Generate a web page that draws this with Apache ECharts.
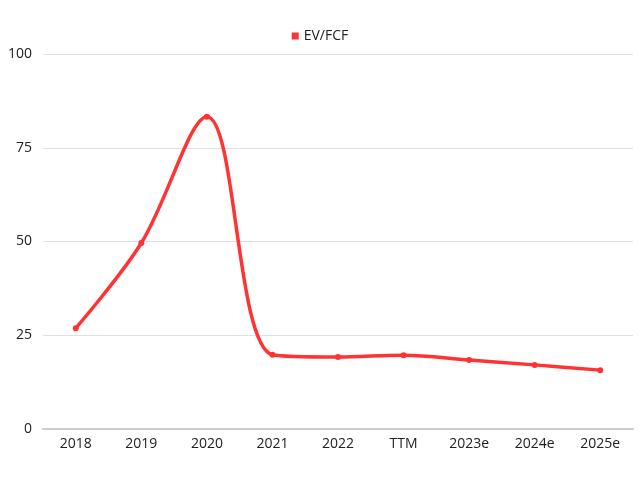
<!DOCTYPE html>
<html lang="en">
<head>
	<meta charset="UTF-8">
	<title>EV/FCF</title>
	<script src="https://cdn.jsdelivr.net/npm/echarts@6/dist/echarts.min.js"></script>
</head>
<body style="margin:0;background-color:#fff;">
<div id="main" style="width:640px;height:480px;"></div>
<script>
    // 类别 (X轴)
    var years = ['2018', '2019', '2020', '2021', '2022', 'TTM', '2023e', '2024e', '2025e'];
    // EV/FCF 数值
    var evFcf = [26.9, 49.6, 83.3, 19.8, 19.2, 19.7, 18.4, 17.1, 15.7];
    // 纵轴刻度
    var yTicks = [0, 25, 50, 75, 100];

    var myChart = echarts.init(document.getElementById('main'));
    var option = {
        textStyle: {fontFamily: 'Open Sans'},
        legend: {
            top: 24,
            left: 'center',
            itemWidth: 7,
            itemHeight: 7,
            itemGap: 5,
            icon: 'rect',
            textStyle: {fontSize: 14, color: '#222'},
            data: ['EV/FCF']
        },
        grid: {left: 43, right: 7, top: 54, bottom: 51},
        xAxis: {
            type: 'category',
            data: years,
            axisLine: {lineStyle: {color: '#cccccc', width: 2}},
            axisTick: {show: false},
            axisLabel: {fontSize: 14, color: '#222', margin: 8}
        },
        yAxis: {
            type: 'value',
            min: yTicks[0],
            max: yTicks[yTicks.length - 1],
            interval: 25,
            axisLine: {show: false},
            axisTick: {show: false},
            axisLabel: {fontSize: 14, color: '#222', margin: 11},
            splitLine: {lineStyle: {color: '#e0e0e0'}}
        },
        series: [{
            name: 'EV/FCF',
            type: 'line',
            smooth: 0.35,
            data: evFcf,
            color: '#ff3333',
            symbol: 'circle',
            symbolSize: 6,
            lineStyle: {width: 3.5}
        }]
    };
    myChart.setOption(option);
</script>
</body>
</html>
